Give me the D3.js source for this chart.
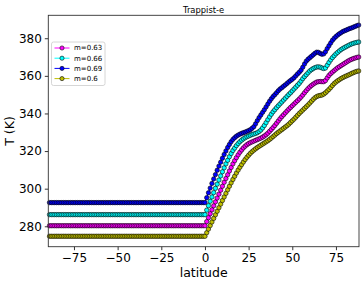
<!DOCTYPE html>
<html>
<head>
<meta charset="utf-8">
<script src="https://cdn.jsdelivr.net/npm/d3@7"></script>
<style>
    body { margin: 0; background: #fff; }
    text { font-family: "DejaVu Sans", sans-serif; }
</style>
</head>
<body>
<svg width="364" height="284"></svg>
<script>
// latitude grid, 1 degree
const latSouth = d3.range(-89, 0);
const latNorth = d3.range(0, 89);

const seriesNames = ["m=0.63", "m=0.66", "m=0.69", "m=0.6"];
const seriesColors = ["#ff00ff", "#00ffff", "#0000ff", "#bfbf00"];

// southern hemisphere (flat)
const southM063 = [
    280.3, 280.3, 280.3, 280.3, 280.3, 280.3, 280.3, 280.3, 280.3, 280.3,
    280.3, 280.3, 280.3, 280.3, 280.3, 280.3, 280.3, 280.3, 280.3, 280.3,
    280.3, 280.3, 280.3, 280.3, 280.3, 280.3, 280.3, 280.3, 280.3, 280.3,
    280.3, 280.3, 280.3, 280.3, 280.3, 280.3, 280.3, 280.3, 280.3, 280.3,
    280.3, 280.3, 280.3, 280.3, 280.3, 280.3, 280.3, 280.3, 280.3, 280.3,
    280.3, 280.3, 280.3, 280.3, 280.3, 280.3, 280.3, 280.3, 280.3, 280.3,
    280.3, 280.3, 280.3, 280.3, 280.3, 280.3, 280.3, 280.3, 280.3, 280.3,
    280.3, 280.3, 280.3, 280.3, 280.3, 280.3, 280.3, 280.3, 280.3, 280.3,
    280.3, 280.3, 280.3, 280.3, 280.3, 280.3, 280.3, 280.3, 280.3
];
const southM066 = [
    286.2, 286.2, 286.2, 286.2, 286.2, 286.2, 286.2, 286.2, 286.2, 286.2,
    286.2, 286.2, 286.2, 286.2, 286.2, 286.2, 286.2, 286.2, 286.2, 286.2,
    286.2, 286.2, 286.2, 286.2, 286.2, 286.2, 286.2, 286.2, 286.2, 286.2,
    286.2, 286.2, 286.2, 286.2, 286.2, 286.2, 286.2, 286.2, 286.2, 286.2,
    286.2, 286.2, 286.2, 286.2, 286.2, 286.2, 286.2, 286.2, 286.2, 286.2,
    286.2, 286.2, 286.2, 286.2, 286.2, 286.2, 286.2, 286.2, 286.2, 286.2,
    286.2, 286.2, 286.2, 286.2, 286.2, 286.2, 286.2, 286.2, 286.2, 286.2,
    286.2, 286.2, 286.2, 286.2, 286.2, 286.2, 286.2, 286.2, 286.2, 286.2,
    286.2, 286.2, 286.2, 286.2, 286.2, 286.2, 286.2, 286.2, 286.2
];
const southM069 = [
    292.6, 292.6, 292.6, 292.6, 292.6, 292.6, 292.6, 292.6, 292.6, 292.6,
    292.6, 292.6, 292.6, 292.6, 292.6, 292.6, 292.6, 292.6, 292.6, 292.6,
    292.6, 292.6, 292.6, 292.6, 292.6, 292.6, 292.6, 292.6, 292.6, 292.6,
    292.6, 292.6, 292.6, 292.6, 292.6, 292.6, 292.6, 292.6, 292.6, 292.6,
    292.6, 292.6, 292.6, 292.6, 292.6, 292.6, 292.6, 292.6, 292.6, 292.6,
    292.6, 292.6, 292.6, 292.6, 292.6, 292.6, 292.6, 292.6, 292.6, 292.6,
    292.6, 292.6, 292.6, 292.6, 292.6, 292.6, 292.6, 292.6, 292.6, 292.6,
    292.6, 292.6, 292.6, 292.6, 292.6, 292.6, 292.6, 292.6, 292.6, 292.6,
    292.6, 292.6, 292.6, 292.6, 292.6, 292.6, 292.6, 292.6, 292.6
];
const southM060 = [
    274.7, 274.7, 274.7, 274.7, 274.7, 274.7, 274.7, 274.7, 274.7, 274.7,
    274.7, 274.7, 274.7, 274.7, 274.7, 274.7, 274.7, 274.7, 274.7, 274.7,
    274.7, 274.7, 274.7, 274.7, 274.7, 274.7, 274.7, 274.7, 274.7, 274.7,
    274.7, 274.7, 274.7, 274.7, 274.7, 274.7, 274.7, 274.7, 274.7, 274.7,
    274.7, 274.7, 274.7, 274.7, 274.7, 274.7, 274.7, 274.7, 274.7, 274.7,
    274.7, 274.7, 274.7, 274.7, 274.7, 274.7, 274.7, 274.7, 274.7, 274.7,
    274.7, 274.7, 274.7, 274.7, 274.7, 274.7, 274.7, 274.7, 274.7, 274.7,
    274.7, 274.7, 274.7, 274.7, 274.7, 274.7, 274.7, 274.7, 274.7, 274.7,
    274.7, 274.7, 274.7, 274.7, 274.7, 274.7, 274.7, 274.7, 274.7
];

// northern hemisphere, lat 0..88
const northM063 = [
    280.3, 282.5, 284.6, 286.7, 288.8, 290.9, 293.0, 295.0, 297.1, 299.2,
    301.3, 303.4, 305.4, 307.4, 309.4, 311.3, 313.2, 314.9, 316.5, 318.0,
    319.4, 320.6, 321.7, 322.6, 323.4, 324.0, 324.5, 324.9, 325.3, 325.7,
    326.1, 326.5, 326.9, 327.4, 328.0, 328.7, 329.5, 330.5, 331.5, 332.5,
    333.6, 334.8, 336.0, 337.2, 338.3, 339.3, 340.3, 341.3, 342.3, 343.2,
    344.1, 345.0, 345.9, 346.8, 347.7, 348.7, 349.8, 351.0, 352.1, 353.2,
    354.1, 354.9, 355.6, 356.2, 356.7, 356.9, 357.0, 356.9, 356.9, 357.5,
    358.9, 360.2, 361.2, 362.0, 362.8, 363.6, 364.3, 364.9, 365.5, 366.1,
    366.7, 367.3, 367.9, 368.4, 368.8, 369.2, 369.5, 369.8, 370.0
];
const northM066 = [
    286.2, 288.6, 291.0, 293.3, 295.6, 297.9, 300.2, 302.4, 304.6, 306.8,
    309.0, 311.1, 313.2, 315.1, 317.0, 318.7, 320.3, 321.6, 322.9, 324.0,
    325.0, 325.8, 326.5, 327.1, 327.6, 328.0, 328.4, 328.8, 329.1, 329.4,
    329.8, 330.4, 331.2, 332.3, 333.6, 335.1, 336.7, 338.2, 339.6, 340.9,
    342.0, 343.1, 344.1, 345.1, 346.1, 347.1, 348.1, 349.1, 350.1, 351.0,
    352.0, 353.0, 354.0, 355.0, 356.0, 357.2, 358.5, 359.6, 360.6, 361.6,
    362.6, 363.3, 363.9, 364.4, 364.7, 364.8, 364.6, 364.2, 363.9, 364.2,
    365.6, 367.1, 368.5, 369.7, 370.7, 371.7, 372.5, 373.3, 374.0, 374.6,
    375.1, 375.6, 376.1, 376.6, 377.0, 377.3, 377.6, 377.8, 378.0
];
const northM069 = [
    292.6, 295.2, 297.8, 300.3, 302.8, 305.2, 307.5, 309.8, 312.0, 314.1,
    316.2, 318.2, 320.1, 321.9, 323.5, 325.0, 326.2, 327.1, 327.9, 328.5,
    329.0, 329.4, 329.8, 330.1, 330.5, 330.9, 331.4, 332.1, 333.0, 334.5,
    336.2, 337.8, 339.2, 340.6, 342.0, 343.5, 345.0, 346.5, 347.8, 349.0,
    350.0, 351.0, 352.1, 353.0, 353.7, 354.5, 355.2, 356.0, 356.8, 357.5,
    358.2, 359.0, 360.0, 361.0, 361.9, 363.0, 364.6, 366.3, 367.8, 368.8,
    369.6, 370.4, 371.2, 372.0, 372.6, 372.5, 371.9, 371.5, 371.7, 372.8,
    374.5, 376.0, 377.5, 378.9, 380.0, 380.9, 381.7, 382.4, 383.0, 383.6,
    384.0, 384.4, 384.8, 385.2, 385.5, 385.9, 386.3, 386.7, 387.0
];
const northM060 = [
    274.7, 276.6, 278.5, 280.4, 282.3, 284.2, 286.1, 288.0, 289.9, 291.8,
    293.7, 295.6, 297.5, 299.4, 301.3, 303.1, 304.9, 306.6, 308.3, 309.9,
    311.4, 312.8, 314.2, 315.5, 316.7, 317.8, 318.8, 319.7, 320.5, 321.2,
    321.9, 322.5, 323.1, 323.7, 324.3, 324.9, 325.5, 326.2, 326.9, 327.7,
    328.5, 329.3, 330.0, 330.7, 331.4, 332.1, 332.8, 333.5, 334.3, 335.2,
    336.1, 337.0, 338.0, 339.0, 340.0, 340.9, 341.8, 342.7, 343.6, 344.5,
    345.5, 346.5, 347.5, 348.4, 349.0, 349.4, 349.6, 349.8, 350.3, 351.0,
    351.9, 352.8, 353.8, 354.9, 355.9, 356.7, 357.4, 358.0, 358.6, 359.1,
    359.6, 360.0, 360.4, 360.8, 361.3, 361.7, 362.1, 362.4, 362.6
];

const xTicks = [-75, -50, -25, 0, 25, 50, 75];
const yTicks = [280, 300, 320, 340, 360, 380];

function buildSeries() {
    const lat = latSouth.concat(latNorth);
    const temps = [
        southM063.concat(northM063),
        southM066.concat(northM066),
        southM069.concat(northM069),
        southM060.concat(northM060)
    ];
    return temps.map((t, i) => ({
        name: seriesNames[i],
        color: seriesColors[i],
        points: t.map((v, j) => ({ lat: lat[j], T: v }))
    }));
}

function drawChart() {
    const series = buildSeries();

    const svg = d3.select("svg");
    const left = 48.3, right = 359, top = 15.3, bottom = 246.7;

    const x = d3.scaleLinear().domain([-89.7, 88.2]).range([left, right]);
    const y = d3.scaleLinear().domain([269.15, 392.2]).range([bottom, top]);

    const xAxis = svg.append("g")
        .attr("transform", `translate(0,${bottom})`)
        .call(d3.axisBottom(x).tickValues(xTicks).tickSize(3.5).tickSizeOuter(0).tickPadding(3));
    const yAxis = svg.append("g")
        .attr("transform", `translate(${left},0)`)
        .call(d3.axisLeft(y).tickValues(yTicks).tickSize(3.5).tickSizeOuter(0).tickPadding(3));

    [xAxis, yAxis].forEach(a => {
        a.select(".domain").remove();
        a.selectAll("line").attr("stroke", "#000").attr("stroke-width", 0.8);
        a.selectAll("text")
            .attr("font-family", "DejaVu Sans")
            .attr("font-size", 12)
            .attr("fill", "#000");
    });

    const line = d3.line()
        .x(d => x(d.lat))
        .y(d => y(d.T));

    const plot = svg.append("g");

    series.forEach(s => {
        plot.append("path")
            .datum(s.points)
            .attr("fill", "none")
            .attr("stroke", s.color)
            .attr("stroke-width", 1)
            .attr("d", line);

        plot.append("g")
            .selectAll("circle")
            .data(s.points)
            .join("circle")
            .attr("cx", d => x(d.lat))
            .attr("cy", d => y(d.T))
            .attr("r", 2.2)
            .attr("fill", s.color)
            .attr("stroke", "#000")
            .attr("stroke-width", 0.6);
    });

    // frame
    svg.append("rect")
        .attr("x", left)
        .attr("y", top)
        .attr("width", right - left)
        .attr("height", bottom - top)
        .attr("fill", "none")
        .attr("stroke", "#333")
        .attr("stroke-width", 0.9);

    // title and axis labels
    svg.append("text")
        .attr("x", (left + right) / 2)
        .attr("y", 12.5)
        .attr("text-anchor", "middle")
        .attr("font-size", 8.4)
        .text("Trappist-e");

    svg.append("text")
        .attr("x", (left + right) / 2)
        .attr("y", 277)
        .attr("text-anchor", "middle")
        .attr("font-size", 12.5)
        .text("latitude");

    svg.append("text")
        .attr("transform", `translate(13.5,${(top + bottom) / 2}) rotate(-90)`)
        .attr("text-anchor", "middle")
        .attr("font-size", 12.5)
        .text("T (K)");

    // legend
    const legend = svg.append("g").attr("transform", "translate(51.5,42)");
    legend.append("rect")
        .attr("width", 53.5)
        .attr("height", 43.5)
        .attr("rx", 2)
        .attr("fill", "#fff")
        .attr("fill-opacity", 0.8)
        .attr("stroke", "#ccc")
        .attr("stroke-width", 0.8);

    const item = legend.selectAll("g.item")
        .data(series)
        .join("g")
        .attr("class", "item")
        .attr("transform", (d, i) => `translate(0,${6 + i * 10.2})`);

    item.append("line")
        .attr("x1", 3)
        .attr("x2", 18)
        .attr("stroke", d => d.color)
        .attr("stroke-width", 1);

    item.append("circle")
        .attr("cx", 10.5)
        .attr("r", 2.1)
        .attr("fill", d => d.color)
        .attr("stroke", "#000")
        .attr("stroke-width", 0.6);

    item.append("text")
        .attr("x", 22.5)
        .attr("dy", "0.35em")
        .attr("font-size", 7)
        .text(d => d.name);
}

drawChart();
</script>
</body>
</html>
